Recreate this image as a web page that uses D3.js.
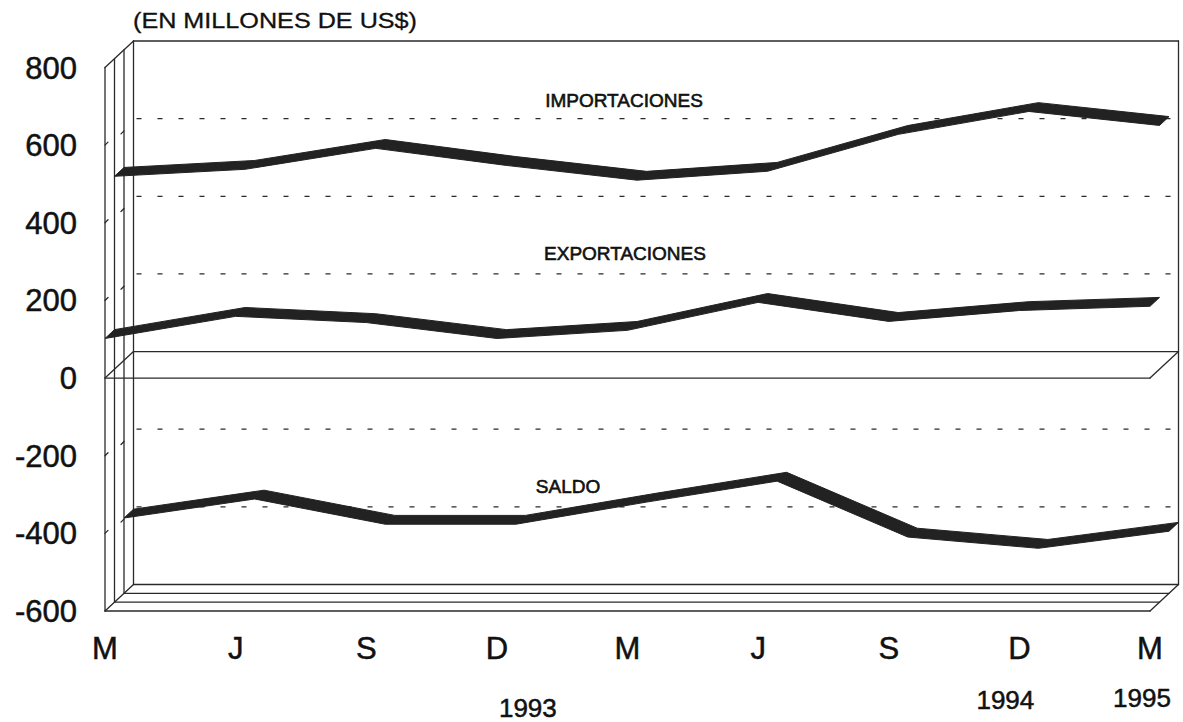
<!DOCTYPE html>
<html><head><meta charset="utf-8">
<script src="https://cdn.jsdelivr.net/npm/d3@7"></script>
<style>body{margin:0;background:#fff}svg{display:block}</style>
</head><body><svg id="c" width="1183" height="722"></svg>
<script>
// ---- data ----
const categories = ["M","J","S","D","M","J","S","D","M"];
const yearLabels = ["1993","1994","1995"];
const yearIndex = [3,7,8];
const tickValues = [800,600,400,200,0,-200,-400,-600];
const gridValues = [600,400,200,-200,-400];
const seriesNames = ["EXPORTACIONES","IMPORTACIONES","SALDO"];
const exportaciones = [102,159,143,102,123,195,146,174,185];
const importaciones = [497,515,569,525,487,510,605,664,628];
const saldo = [-406,-357,-422,-422,-365,-311,-455,-484,-440];
const unitLabel = "(EN MILLONES DE US$)";

// ---- layout ----
const DX = 28.5, DY = -26.5;
const x = d3.scalePoint().domain(d3.range(categories.length)).range([105,1150]);
const y = d3.scaleLinear().domain([-600,800]).range([611,67.5]);
const x0 = x(0), x1 = x(categories.length-1);
const svg = d3.select("#c");
const ink = "#2a2a2a";
const g = svg.append("g");

function ln(a,b,c,d,dash){
  const l = g.append("line").attr("x1",a).attr("y1",b).attr("x2",c).attr("y2",d)
    .attr("stroke",ink).attr("stroke-width",1.3).attr("stroke-linecap","round");
  if(dash) l.attr("stroke-dasharray",dash).attr("stroke-linecap","butt");
  return l;
}

// dashed gridlines on back wall
gridValues.forEach(v => ln(x0+DX+3, y(v)+DY, x1+DX, y(v)+DY, "5,16"));

// left wall verticals (front, intermediate depths, back)
for(let k=0;k<=3;k++){
  ln(x0+k*DX/3, y(800)+k*DY/3, x0+k*DX/3, y(-600)+k*DY/3);
}
// top-left diagonal, back top, back right
ln(x0, y(800), x0+DX, y(800)+DY);
ln(x0+DX, y(800)+DY, x1+DX, y(800)+DY);
ln(x1+DX, y(800)+DY, x1+DX, y(-600)+DY);
// zero plane
ln(x0, y(0), x1, y(0));
ln(x0+DX, y(0)+DY, x1+DX, y(0)+DY);
ln(x0, y(0), x0+DX, y(0)+DY);
ln(x1, y(0), x1+DX, y(0)+DY);
// floor
for(let k=0;k<=3;k++){
  ln(x0+k*DX/3, y(-600)+k*DY/3, x1+k*DX/3, y(-600)+k*DY/3);
}
ln(x0, y(-600), x0+DX, y(-600)+DY);
ln(x1, y(-600), x1+DX, y(-600)+DY);

// small ticks on left wall
[600,400,200,-200,-400].forEach(v=>{
  ln(x0, y(v), x0+3, y(v)-3);
  ln(x0+2*DX/3-3, y(v)+DY/2+2, x0+2*DX/3, y(v)+DY/2-1);
});

// ribbons
const series = [
  {name:seriesNames[0], values:exportaciones, d0:0,   d1:1/3},
  {name:seriesNames[1], values:importaciones, d0:1/3, d1:2/3},
  {name:seriesNames[2], values:saldo,         d0:2/3, d1:1}
];
series.slice().reverse().forEach(s=>{
  const front = s.values.map((v,i)=>[x(i)+s.d0*DX, y(v)+s.d0*DY]);
  const back = s.values.map((v,i)=>[x(i)+s.d1*DX, y(v)+s.d1*DY]).reverse();
  g.append("path").attr("d", d3.line()(front.concat(back))+"Z")
    .attr("fill","#222").attr("stroke","#222").attr("stroke-width",1)
    .attr("stroke-linejoin","round");
});

// series labels
const font = "'Liberation Sans', Arial, Helvetica, sans-serif";
const labelPos = [[625,260],[624,107],[568,493]];
series.forEach((s,i)=>{
  svg.append("text").attr("x",labelPos[i][0]).attr("y",labelPos[i][1])
    .attr("text-anchor","middle").attr("font-family",font).attr("font-size",19)
    .attr("fill","#111").attr("stroke","#111").attr("stroke-width",0.6)
    .text(s.name);
});

// y axis labels
tickValues.forEach(v=>{
  svg.append("text").attr("x",77).attr("y",y(v)+11).attr("text-anchor","end")
    .attr("font-family",font).attr("font-size",31).attr("fill","#111")
    .attr("stroke","#111").attr("stroke-width",0.5).text(v);
});
// x labels
categories.forEach((c,i)=>{
  svg.append("text").attr("x",x(i)).attr("y",659).attr("text-anchor","middle")
    .attr("font-family",font).attr("font-size",31).attr("fill","#111")
    .attr("stroke","#111").attr("stroke-width",0.5).text(c);
});
// year labels
const yearDx = [31,-14,-8], yearY = [717,709,707];
yearLabels.forEach((t,i)=>{
  svg.append("text").attr("x",x(yearIndex[i])+yearDx[i]).attr("y",yearY[i])
    .attr("text-anchor","middle").attr("font-family",font).attr("font-size",26)
    .attr("fill","#111").attr("stroke","#111").attr("stroke-width",0.5).text(t);
});
// unit label
svg.append("text").attr("x",133).attr("y",28).attr("font-family",font)
  .attr("font-size",22).attr("textLength",284).attr("lengthAdjust","spacingAndGlyphs")
  .attr("fill","#111").attr("stroke","#111").attr("stroke-width",0.3).text(unitLabel);
</script></body></html>
